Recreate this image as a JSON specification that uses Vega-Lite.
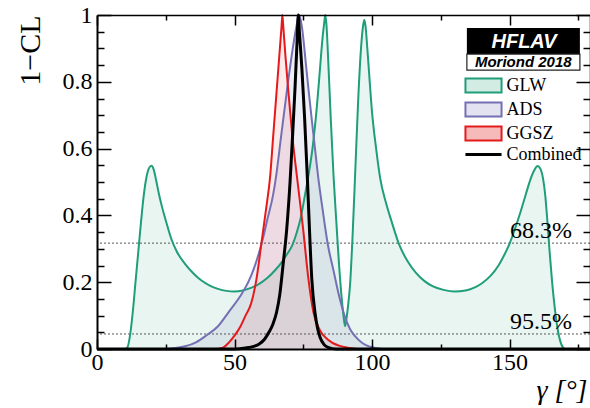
{
  "$schema": "https://vega.github.io/schema/vega-lite/v6.json",
  "width": 493,
  "height": 334,
  "autosize": {"type": "none"},
  "padding": {"left": 97, "top": 15, "right": 0, "bottom": 59},
  "config": {"view": {"stroke": null}, "font": "Liberation Serif"},
  "datasets": {
    "curves": [
      {"s":"GLW","g":0,"cl":0},{"s":"GLW","g":10,"cl":0},{"s":"GLW","g":11,"cl":0.004},{"s":"GLW","g":12,"cl":0.04},{"s":"GLW","g":13,"cl":0.11},{"s":"GLW","g":14,"cl":0.2},{"s":"GLW","g":15,"cl":0.29},{"s":"GLW","g":16,"cl":0.38},{"s":"GLW","g":17,"cl":0.46},{"s":"GLW","g":18,"cl":0.515},{"s":"GLW","g":19,"cl":0.543},{"s":"GLW","g":19.8,"cl":0.549},{"s":"GLW","g":20.6,"cl":0.538},{"s":"GLW","g":21.5,"cl":0.505},{"s":"GLW","g":22.5,"cl":0.465},{"s":"GLW","g":23.5,"cl":0.43},{"s":"GLW","g":25,"cl":0.385},{"s":"GLW","g":27,"cl":0.33},{"s":"GLW","g":29,"cl":0.292},{"s":"GLW","g":32,"cl":0.255},{"s":"GLW","g":35,"cl":0.227},{"s":"GLW","g":38,"cl":0.205},{"s":"GLW","g":41,"cl":0.19},{"s":"GLW","g":44,"cl":0.18},{"s":"GLW","g":47,"cl":0.174},{"s":"GLW","g":50,"cl":0.172},{"s":"GLW","g":53,"cl":0.175},{"s":"GLW","g":56,"cl":0.183},{"s":"GLW","g":59,"cl":0.195},{"s":"GLW","g":62,"cl":0.213},{"s":"GLW","g":65,"cl":0.238},{"s":"GLW","g":67,"cl":0.258},{"s":"GLW","g":69,"cl":0.283},{"s":"GLW","g":71,"cl":0.31},{"s":"GLW","g":72.5,"cl":0.345},{"s":"GLW","g":74,"cl":0.39},{"s":"GLW","g":75.5,"cl":0.455},{"s":"GLW","g":77,"cl":0.525},{"s":"GLW","g":78.5,"cl":0.61},{"s":"GLW","g":80,"cl":0.73},{"s":"GLW","g":81,"cl":0.83},{"s":"GLW","g":82,"cl":0.93},{"s":"GLW","g":82.6,"cl":0.975},{"s":"GLW","g":83,"cl":1.0},{"s":"GLW","g":83.4,"cl":0.975},{"s":"GLW","g":84,"cl":0.88},{"s":"GLW","g":85,"cl":0.69},{"s":"GLW","g":86,"cl":0.52},{"s":"GLW","g":87,"cl":0.385},{"s":"GLW","g":88,"cl":0.255},{"s":"GLW","g":89,"cl":0.15},{"s":"GLW","g":89.7,"cl":0.095},{"s":"GLW","g":90.2,"cl":0.068},{"s":"GLW","g":90.7,"cl":0.09},{"s":"GLW","g":91.3,"cl":0.13},{"s":"GLW","g":92,"cl":0.19},{"s":"GLW","g":93,"cl":0.35},{"s":"GLW","g":94,"cl":0.55},{"s":"GLW","g":95,"cl":0.75},{"s":"GLW","g":96,"cl":0.9},{"s":"GLW","g":96.8,"cl":0.97},{"s":"GLW","g":97.2,"cl":0.985},{"s":"GLW","g":97.6,"cl":0.97},{"s":"GLW","g":98.3,"cl":0.9},{"s":"GLW","g":99,"cl":0.82},{"s":"GLW","g":100,"cl":0.71},{"s":"GLW","g":101.5,"cl":0.6},{"s":"GLW","g":103,"cl":0.51},{"s":"GLW","g":105,"cl":0.44},{"s":"GLW","g":107,"cl":0.385},{"s":"GLW","g":110,"cl":0.31},{"s":"GLW","g":113,"cl":0.262},{"s":"GLW","g":116,"cl":0.228},{"s":"GLW","g":119,"cl":0.204},{"s":"GLW","g":122,"cl":0.188},{"s":"GLW","g":126,"cl":0.177},{"s":"GLW","g":130,"cl":0.172},{"s":"GLW","g":134,"cl":0.175},{"s":"GLW","g":137,"cl":0.183},{"s":"GLW","g":140,"cl":0.197},{"s":"GLW","g":143,"cl":0.218},{"s":"GLW","g":146,"cl":0.25},{"s":"GLW","g":148,"cl":0.28},{"s":"GLW","g":150,"cl":0.315},{"s":"GLW","g":152,"cl":0.36},{"s":"GLW","g":154,"cl":0.41},{"s":"GLW","g":156,"cl":0.465},{"s":"GLW","g":157.5,"cl":0.505},{"s":"GLW","g":159,"cl":0.535},{"s":"GLW","g":160.2,"cl":0.548},{"s":"GLW","g":161.2,"cl":0.54},{"s":"GLW","g":162.2,"cl":0.51},{"s":"GLW","g":163,"cl":0.46},{"s":"GLW","g":163.8,"cl":0.38},{"s":"GLW","g":164.6,"cl":0.29},{"s":"GLW","g":165.5,"cl":0.2},{"s":"GLW","g":166.5,"cl":0.12},{"s":"GLW","g":167.5,"cl":0.06},{"s":"GLW","g":168.5,"cl":0.022},{"s":"GLW","g":169.5,"cl":0.004},{"s":"GLW","g":170,"cl":0},{"s":"GLW","g":180,"cl":0},
      {"s":"ADS","g":0,"cl":0},{"s":"ADS","g":25,"cl":0},{"s":"ADS","g":28,"cl":0.002},{"s":"ADS","g":32,"cl":0.008},{"s":"ADS","g":36,"cl":0.02},{"s":"ADS","g":40,"cl":0.042},{"s":"ADS","g":44,"cl":0.068},{"s":"ADS","g":48,"cl":0.112},{"s":"ADS","g":52,"cl":0.157},{"s":"ADS","g":55,"cl":0.2},{"s":"ADS","g":57,"cl":0.24},{"s":"ADS","g":60,"cl":0.32},{"s":"ADS","g":62,"cl":0.39},{"s":"ADS","g":64,"cl":0.46},{"s":"ADS","g":65,"cl":0.51},{"s":"ADS","g":67,"cl":0.64},{"s":"ADS","g":69,"cl":0.77},{"s":"ADS","g":71,"cl":0.89},{"s":"ADS","g":72.5,"cl":0.965},{"s":"ADS","g":73.5,"cl":1.0},{"s":"ADS","g":74.5,"cl":0.965},{"s":"ADS","g":76,"cl":0.85},{"s":"ADS","g":77,"cl":0.77},{"s":"ADS","g":79,"cl":0.62},{"s":"ADS","g":80.5,"cl":0.51},{"s":"ADS","g":82,"cl":0.42},{"s":"ADS","g":84,"cl":0.31},{"s":"ADS","g":86,"cl":0.235},{"s":"ADS","g":88,"cl":0.16},{"s":"ADS","g":90,"cl":0.1},{"s":"ADS","g":92,"cl":0.06},{"s":"ADS","g":94,"cl":0.037},{"s":"ADS","g":96,"cl":0.021},{"s":"ADS","g":98,"cl":0.011},{"s":"ADS","g":100,"cl":0.005},{"s":"ADS","g":103,"cl":0.001},{"s":"ADS","g":105,"cl":0},{"s":"ADS","g":180,"cl":0},
      {"s":"GGSZ","g":0,"cl":0},{"s":"GGSZ","g":43,"cl":0},{"s":"GGSZ","g":46,"cl":0.005},{"s":"GGSZ","g":48,"cl":0.02},{"s":"GGSZ","g":50,"cl":0.04},{"s":"GGSZ","g":52,"cl":0.065},{"s":"GGSZ","g":54,"cl":0.1},{"s":"GGSZ","g":56,"cl":0.135},{"s":"GGSZ","g":58,"cl":0.21},{"s":"GGSZ","g":60,"cl":0.33},{"s":"GGSZ","g":61.5,"cl":0.42},{"s":"GGSZ","g":63,"cl":0.52},{"s":"GGSZ","g":64,"cl":0.63},{"s":"GGSZ","g":65.3,"cl":0.77},{"s":"GGSZ","g":66.5,"cl":0.9},{"s":"GGSZ","g":67.1,"cl":0.965},{"s":"GGSZ","g":67.4,"cl":1.0},{"s":"GGSZ","g":67.7,"cl":0.97},{"s":"GGSZ","g":68.5,"cl":0.88},{"s":"GGSZ","g":69.6,"cl":0.77},{"s":"GGSZ","g":71,"cl":0.64},{"s":"GGSZ","g":72.8,"cl":0.51},{"s":"GGSZ","g":75,"cl":0.356},{"s":"GGSZ","g":76.8,"cl":0.215},{"s":"GGSZ","g":78.7,"cl":0.11},{"s":"GGSZ","g":81,"cl":0.057},{"s":"GGSZ","g":84,"cl":0.028},{"s":"GGSZ","g":88,"cl":0.01},{"s":"GGSZ","g":92,"cl":0.003},{"s":"GGSZ","g":95,"cl":0},{"s":"GGSZ","g":180,"cl":0},
      {"s":"Combined","g":0,"cl":0},{"s":"Combined","g":50,"cl":0},{"s":"Combined","g":54,"cl":0.003},{"s":"Combined","g":57,"cl":0.008},{"s":"Combined","g":59,"cl":0.015},{"s":"Combined","g":61,"cl":0.03},{"s":"Combined","g":62.5,"cl":0.05},{"s":"Combined","g":64,"cl":0.075},{"s":"Combined","g":65.3,"cl":0.11},{"s":"Combined","g":66.5,"cl":0.165},{"s":"Combined","g":67.7,"cl":0.255},{"s":"Combined","g":69,"cl":0.36},{"s":"Combined","g":70.2,"cl":0.5},{"s":"Combined","g":71,"cl":0.62},{"s":"Combined","g":72,"cl":0.78},{"s":"Combined","g":72.8,"cl":0.93},{"s":"Combined","g":73.2,"cl":1.0},{"s":"Combined","g":73.6,"cl":0.95},{"s":"Combined","g":74.5,"cl":0.84},{"s":"Combined","g":75.5,"cl":0.69},{"s":"Combined","g":76.5,"cl":0.51},{"s":"Combined","g":77.2,"cl":0.37},{"s":"Combined","g":78.1,"cl":0.21},{"s":"Combined","g":79.3,"cl":0.107},{"s":"Combined","g":80.2,"cl":0.062},{"s":"Combined","g":81.1,"cl":0.035},{"s":"Combined","g":82.5,"cl":0.014},{"s":"Combined","g":84,"cl":0.005},{"s":"Combined","g":87,"cl":0},{"s":"Combined","g":180,"cl":0}
    ],
    "levels": [
      {"cl": 0.317, "label": "68.3%"},
      {"cl": 0.045, "label": "95.5%"}
    ]
  },
  "layer": [
    {
      "data": {"name": "curves"},
      "transform": [{"filter": "datum.s === 'GLW'"}],
      "mark": {"type": "area", "interpolate": "monotone", "fillOpacity": 0.1},
      "encoding": {
        "x": {"field": "g", "type": "quantitative", "scale": {"domain": [0, 180], "range": [0, 495], "nice": false},
          "axis": {"orient": "bottom", "values": [0,25,50,75,100,125,150,175], "labelExpr": "datum.value % 50 === 0 ? datum.label : ''",
            "tickSize": {"condition": {"test": "datum.value % 50 === 0", "value": -10}, "value": -5},
            "labelPadding": 11, "labelFontSize": 24, "labelColor": "black", "labelFont": "Liberation Serif", "labelFlush": false, "labelOverlap": false,
            "tickColor": "black", "tickWidth": 1.5, "domainColor": "black", "domainWidth": 2, "grid": false, "zindex": 1,
            "title": "γ  [°]", "titleFont": "Liberation Serif", "titleFontSize": 28, "titleFontStyle": "italic", "titleFontWeight": "normal", "titleColor": "black",
            "titleX": 490, "titleY": 49, "titleAlign": "right", "titleBaseline": "alphabetic", "titleAnchor": null}},
        "y": {"field": "cl", "type": "quantitative", "stack": null, "scale": {"domain": [0, 1], "nice": false},
          "axis": {"orient": "left", "values": [0,0.05,0.1,0.15,0.2,0.25,0.3,0.35,0.4,0.45,0.5,0.55,0.6,0.65,0.7,0.75,0.8,0.85,0.9,0.95,1],
            "labelExpr": "abs(datum.value*5 - round(datum.value*5)) < 1e-6 ? format(datum.value, '~g') : ''",
            "tickSize": {"condition": {"test": "abs(datum.value*5 - round(datum.value*5)) < 1e-6", "value": -14}, "value": -7},
            "labelPadding": 19, "labelFontSize": 24, "labelColor": "black", "labelFont": "Liberation Serif", "labelFlush": false, "labelOverlap": false,
            "tickColor": "black", "tickWidth": 1.5, "domainColor": "black", "domainWidth": 2, "grid": false, "zindex": 1,
            "title": "1−CL", "titleFont": "Liberation Serif", "titleFontSize": 30, "titleFontWeight": "normal", "titleColor": "black",
            "titleAngle": -90, "titleX": -67, "titleY": 0, "titleAlign": "right", "titleBaseline": "middle", "titleAnchor": null}},
        "color": {"field": "s", "type": "nominal",
          "scale": {"domain": ["GLW", "ADS", "GGSZ", "Combined"], "range": ["#1f9e79", "#7570b3", "#e41a1c", "#000000"]},
          "legend": {"orient": "none", "legendX": 377.5, "legendY": 61.5, "title": null, "padding": 0, "rowPadding": 0,
            "symbolType": "M-1.9,-0.74H1.9V0.74H-1.9Z", "symbolSize": 361, "symbolStrokeWidth": 2,
            "labelFont": "Liberation Serif", "labelFontSize": 18, "labelColor": "black", "labelOffset": 14,
            "encode": {"symbols": {"update": {
              "shape": {"signal": "datum.value === 'Combined' ? 'M-1.9,0H1.9' : 'M-1.9,-0.74H1.9V0.74H-1.9Z'"},
              "strokeWidth": {"signal": "datum.value === 'Combined' ? 3 : 2"},
              "fillOpacity": {"signal": "datum.value === 'Combined' ? 0 : (datum.value === 'GGSZ' ? 0.3 : 0.2)"},
              "strokeOpacity": {"value": 1},
              "opacity": {"value": 1}
            }}}}}
      }
    },
    {
      "data": {"name": "curves"},
      "transform": [{"filter": "datum.s === 'ADS'"}],
      "mark": {"type": "area", "interpolate": "monotone", "fillOpacity": 0.12},
      "encoding": {
        "x": {"field": "g", "type": "quantitative", "axis": null},
        "y": {"field": "cl", "type": "quantitative", "stack": null, "axis": null},
        "color": {"field": "s", "type": "nominal"}
      }
    },
    {
      "data": {"name": "curves"},
      "transform": [{"filter": "datum.s === 'GGSZ'"}],
      "mark": {"type": "area", "interpolate": "monotone", "fillOpacity": 0.09},
      "encoding": {
        "x": {"field": "g", "type": "quantitative", "axis": null},
        "y": {"field": "cl", "type": "quantitative", "stack": null, "axis": null},
        "color": {"field": "s", "type": "nominal"}
      }
    },
    {
      "data": {"name": "levels"},
      "mark": {"type": "rule", "strokeDash": [2, 2], "color": "#555555", "strokeWidth": 1},
      "encoding": {
        "y": {"field": "cl", "type": "quantitative", "axis": null}
      }
    },
    {
      "data": {"name": "curves"},
      "transform": [{"filter": "datum.s !== 'Combined'"}],
      "mark": {"type": "line", "interpolate": "monotone", "strokeWidth": 2},
      "encoding": {
        "x": {"field": "g", "type": "quantitative", "axis": null},
        "y": {"field": "cl", "type": "quantitative", "axis": null},
        "color": {"field": "s", "type": "nominal"}
      }
    },
    {
      "data": {"name": "curves"},
      "transform": [{"filter": "datum.s === 'Combined'"}],
      "mark": {"type": "line", "interpolate": "monotone", "strokeWidth": 3},
      "encoding": {
        "x": {"field": "g", "type": "quantitative",
          "axis": {"orient": "top", "values": [0,25,50,75,100,125,150,175], "labels": false, "title": null, "grid": false, "zindex": 1,
            "tickSize": {"condition": {"test": "datum.value % 50 === 0", "value": -10}, "value": -5},
            "tickColor": "black", "tickWidth": 1.5, "domainColor": "black", "domainWidth": 1.5}},
        "y": {"field": "cl", "type": "quantitative",
          "axis": {"orient": "right", "values": [0,0.05,0.1,0.15,0.2,0.25,0.3,0.35,0.4,0.45,0.5,0.55,0.6,0.65,0.7,0.75,0.8,0.85,0.9,0.95,1], "labels": false, "title": null, "grid": false, "zindex": 1,
            "tickSize": {"condition": {"test": "abs(datum.value*5 - round(datum.value*5)) < 1e-6", "value": -14}, "value": -7},
            "tickColor": "black", "tickWidth": 1.5, "domainColor": "black", "domainWidth": 1.5}},
        "color": {"field": "s", "type": "nominal"}
      }
    },
    {
      "data": {"name": "levels"},
      "mark": {"type": "text", "align": "right", "baseline": "alphabetic", "dy": -5, "fontSize": 24, "font": "Liberation Serif", "color": "black"},
      "encoding": {
        "x": {"datum": 172.7, "type": "quantitative", "axis": null},
        "y": {"field": "cl", "type": "quantitative", "axis": null},
        "text": {"field": "label"}
      }
    },
    {
      "data": {"values": [{"box": "HFLAV"}]},
      "mark": {"type": "rect", "color": "black"},
      "encoding": {
        "x": {"datum": 134.5, "type": "quantitative", "axis": null},
        "x2": {"datum": 175.6},
        "y": {"datum": 0.961, "type": "quantitative", "axis": null},
        "y2": {"datum": 0.883}
      }
    },
    {
      "data": {"values": [{"box": "Moriond 2018"}]},
      "mark": {"type": "rect", "fill": "white", "stroke": "#222222", "strokeWidth": 1.2},
      "encoding": {
        "x": {"datum": 134.5, "type": "quantitative", "axis": null},
        "x2": {"datum": 175.6},
        "y": {"datum": 0.883, "type": "quantitative", "axis": null},
        "y2": {"datum": 0.835}
      }
    },
    {
      "data": {"values": [{"t": "HFLAV"}]},
      "mark": {"type": "text", "align": "center", "baseline": "middle", "font": "Liberation Sans", "fontWeight": "bold", "fontStyle": "italic", "fontSize": 20, "color": "white"},
      "encoding": {
        "x": {"datum": 155.3, "type": "quantitative", "axis": null},
        "y": {"datum": 0.918, "type": "quantitative", "axis": null},
        "text": {"field": "t"}
      }
    },
    {
      "data": {"values": [{"t": "Moriond 2018"}]},
      "mark": {"type": "text", "align": "center", "baseline": "middle", "font": "Liberation Sans", "fontWeight": "bold", "fontStyle": "italic", "fontSize": 15, "color": "black"},
      "encoding": {
        "x": {"datum": 155, "type": "quantitative", "axis": null},
        "y": {"datum": 0.859, "type": "quantitative", "axis": null},
        "text": {"field": "t"}
      }
    }
  ],
  "resolve": {"axis": {"x": "independent", "y": "independent"}}
}
